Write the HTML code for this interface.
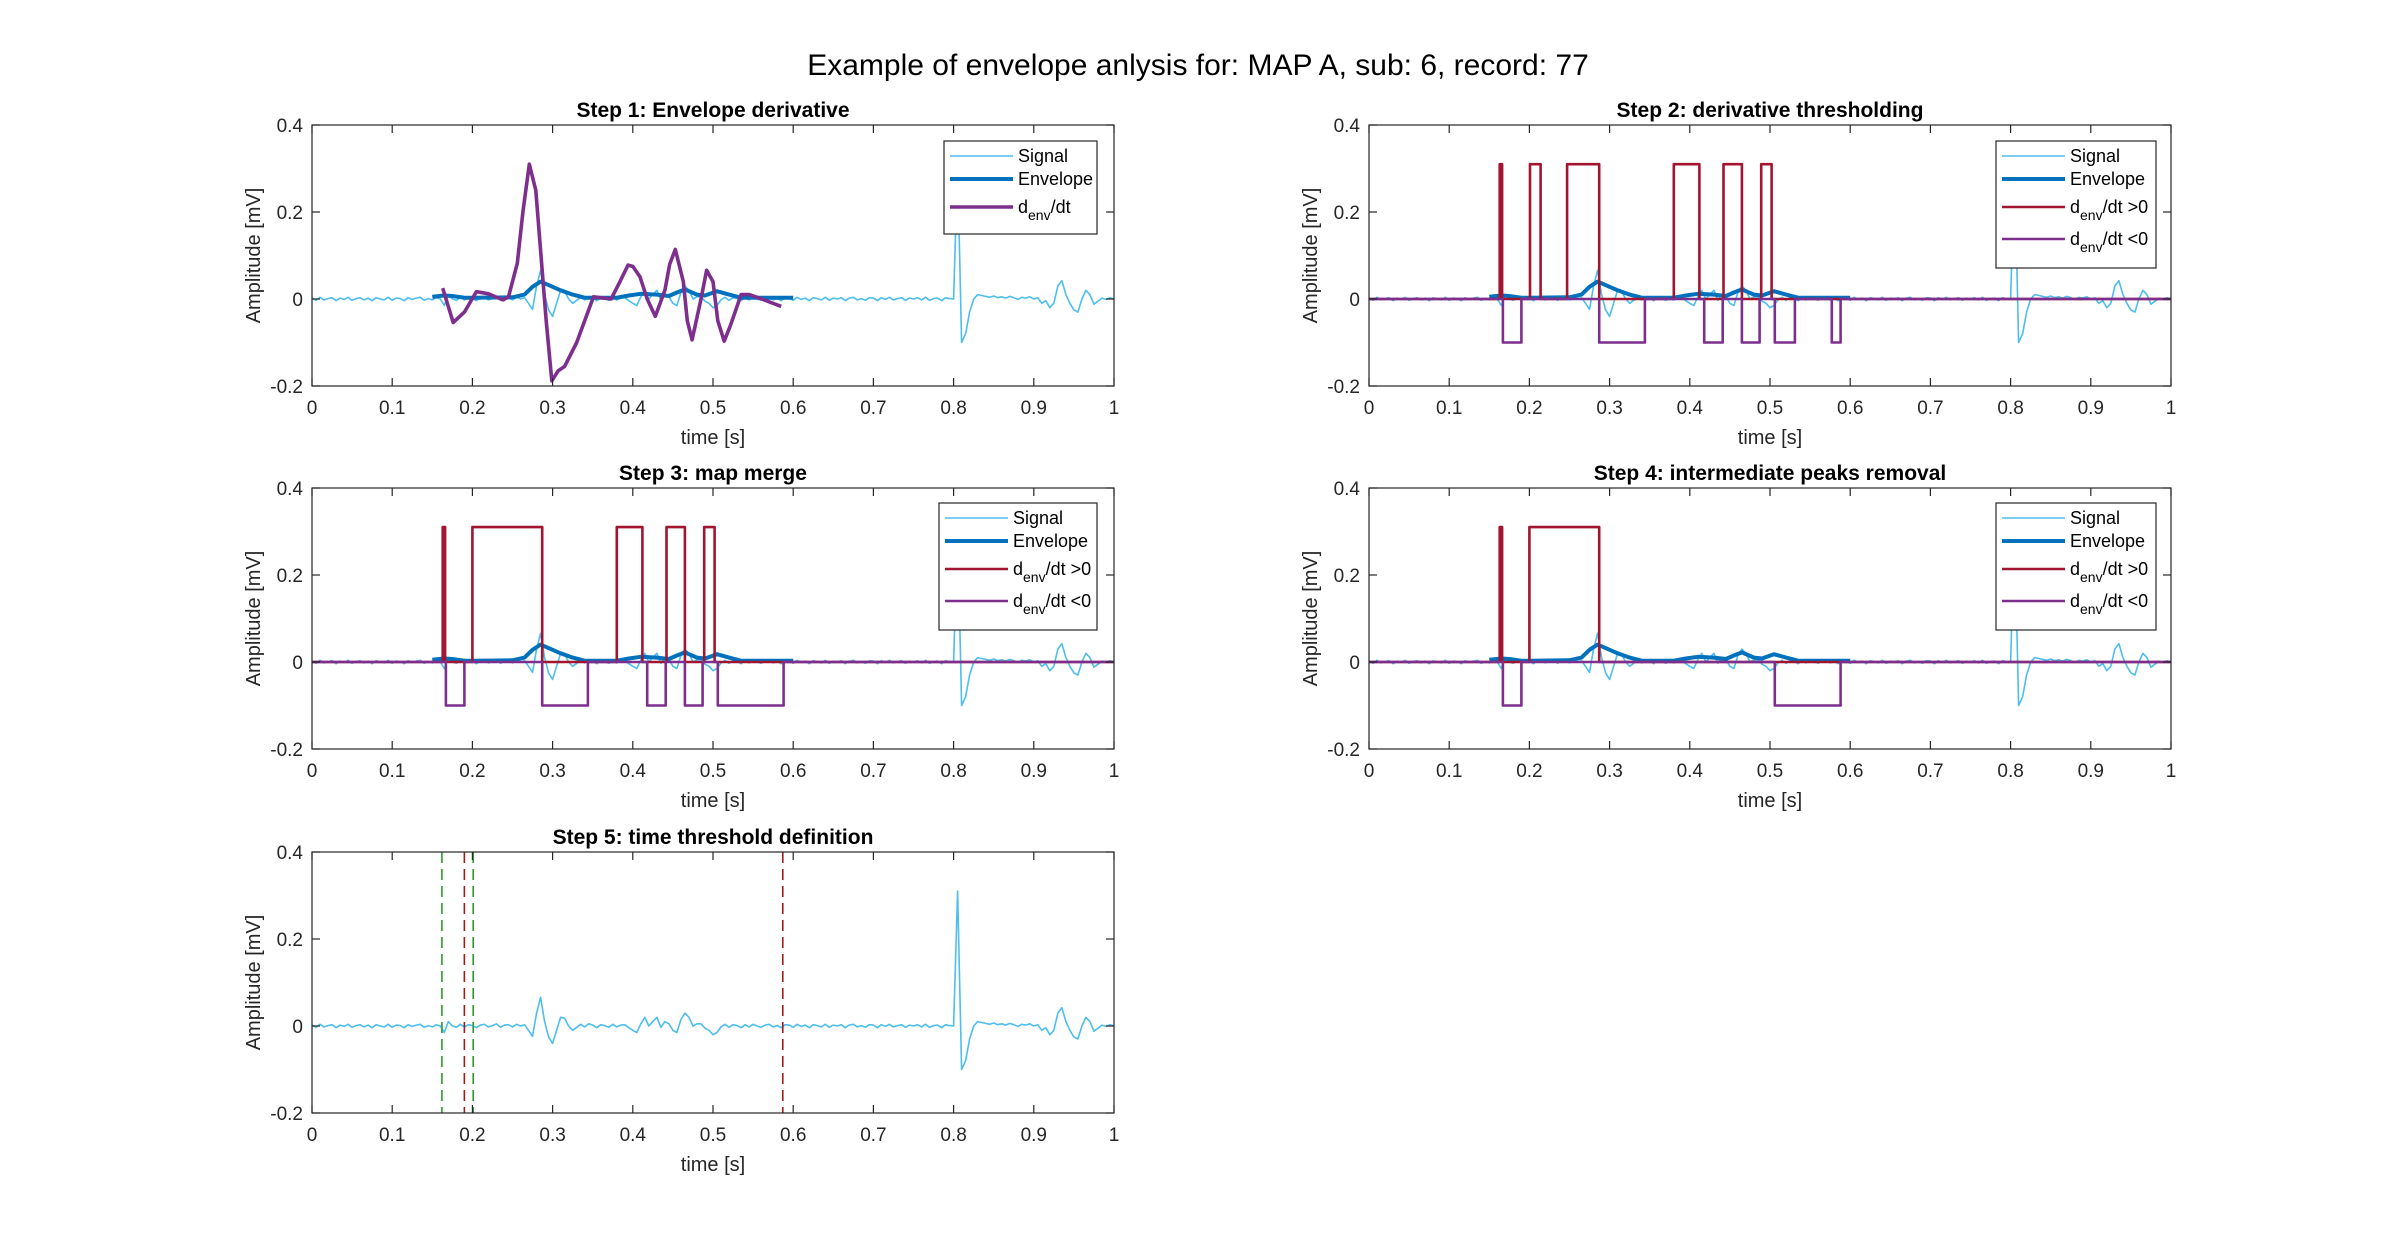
<!DOCTYPE html>
<html><head><meta charset="utf-8"><style>
html,body{margin:0;padding:0;background:#fff}
svg{display:block;font-family:"Liberation Sans",Arial,sans-serif}
</style></head><body>
<svg id="fig" width="2400" height="1245" viewBox="0 0 2400 1245" xmlns="http://www.w3.org/2000/svg">
<rect x="0" y="0" width="2400" height="1245" fill="#fff"/>
<text x="1198" y="75" font-size="30" text-anchor="middle" fill="#000">Example of envelope anlysis for: MAP A, sub: 6, record: 77</text>
</svg>
<script>
// ---- data ----
const sigStep = 0.005;
const signalValues = [
0.002,-0.003,0.004,-0.002,0.001,0.003,-0.004,0.002,-0.001,0.004,-0.003,0.001,0.003,-0.002,0.002,-0.004,0.003,0.000,-0.002,0.004,
-0.003,0.002,0.001,-0.004,0.003,-0.001,0.002,0.004,-0.003,0.001,-0.002,0.003,0.000,-0.015,0.010,0.000,-0.003,0.004,-0.002,0.003,
0.001,-0.004,0.002,0.004,-0.002,0.001,0.005,-0.003,0.002,0.003,-0.002,0.004,0.000,0.003,-0.010,-0.024,0.030,0.066,0.010,-0.025,
-0.040,-0.010,0.020,0.018,0.000,-0.010,-0.003,0.004,-0.002,0.005,0.002,-0.004,0.003,0.001,-0.003,0.004,-0.002,0.002,0.003,-0.004,
-0.010,-0.015,0.005,0.020,0.000,0.010,0.020,-0.003,0.010,0.005,-0.010,-0.015,0.015,0.030,0.020,0.000,0.005,0.005,-0.005,-0.010,
-0.020,-0.015,-0.002,0.004,-0.003,0.003,0.001,-0.004,0.003,-0.002,0.004,0.000,-0.003,0.002,0.004,-0.002,0.001,-0.004,0.003,0.002,
-0.003,0.004,-0.001,0.002,-0.004,0.003,0.001,-0.002,0.004,-0.003,0.002,0.000,0.003,-0.004,0.002,0.004,-0.002,0.001,-0.003,0.003,
0.002,-0.004,0.003,-0.001,0.004,-0.002,0.001,0.003,-0.003,0.002,0.000,0.003,-0.002,0.004,-0.003,0.001,0.002,-0.004,0.003,0.001,
0.000,0.310,-0.100,-0.080,-0.030,0.000,0.010,0.008,0.006,0.004,0.007,0.003,0.005,0.002,0.006,0.003,-0.001,0.004,0.002,0.005,
0.000,0.003,-0.010,-0.004,-0.020,-0.010,0.030,0.042,0.010,-0.010,-0.025,-0.030,0.000,0.020,0.010,-0.012,-0.005,0.002,-0.001,0.003,
0.000];
const envT = [0.15,0.165,0.175,0.19,0.2,0.25,0.265,0.275,0.285,0.295,0.31,0.325,0.34,0.38,0.395,0.41,0.43,0.445,0.455,0.465,0.48,0.49,0.505,0.52,0.535,0.6];
const envV = [0.005,0.008,0.007,0.003,0.003,0.004,0.01,0.028,0.04,0.032,0.02,0.01,0.003,0.003,0.008,0.012,0.01,0.007,0.015,0.022,0.01,0.008,0.018,0.01,0.003,0.003];
const derT = [0.163,0.176,0.19,0.205,0.22,0.238,0.245,0.256,0.263,0.271,0.279,0.286,0.292,0.299,0.307,0.315,0.33,0.351,0.373,0.384,0.394,0.4,0.409,0.418,0.428,0.44,0.446,0.453,0.463,0.468,0.474,0.485,0.492,0.5,0.506,0.514,0.522,0.535,0.545,0.561,0.585];
const derV = [0.025,-0.054,-0.03,0.017,0.012,-0.002,0.005,0.082,0.2,0.31,0.25,0.088,-0.05,-0.188,-0.165,-0.155,-0.1,0.005,0,0.04,0.078,0.075,0.051,0,-0.04,0.02,0.08,0.114,0.04,-0.05,-0.094,0,0.066,0.04,-0.05,-0.097,-0.06,0.01,0.01,0,-0.017];
const posLevel = 0.31, negLevel = -0.1;
const step2PosStart = [0.163,0.2007,0.247,0.380,0.442,0.489];
const step2PosEnd   = [0.166,0.214,0.287,0.412,0.465,0.502];
const step2NegStart = [0.167,0.287,0.418,0.465,0.506,0.577];
const step2NegEnd   = [0.190,0.344,0.441,0.487,0.531,0.588];
const step3PosStart = [0.163,0.200,0.380,0.442,0.489];
const step3PosEnd   = [0.166,0.287,0.412,0.465,0.502];
const step3NegStart = [0.167,0.287,0.418,0.465,0.506];
const step3NegEnd   = [0.190,0.344,0.441,0.487,0.588];
const step4PosStart = [0.163,0.200];
const step4PosEnd   = [0.166,0.287];
const step4NegStart = [0.167,0.506];
const step4NegEnd   = [0.190,0.588];
const greenLines = [0.162,0.201];
const redLines = [0.190,0.587];
const xTicks = [0,0.1,0.2,0.3,0.4,0.5,0.6,0.7,0.8,0.9,1];
const xTickLabels = ["0","0.1","0.2","0.3","0.4","0.5","0.6","0.7","0.8","0.9","1"];
const yTicks = [-0.2,0,0.2,0.4];
const yTickLabels = ["-0.2","0","0.2","0.4"];

const NS = "http://www.w3.org/2000/svg";
const svg = document.getElementById("fig");
const C_SIG = "#4DBEEE", C_ENV = "#0072BD", C_DER = "#7E2F8E", C_POS = "#A2142F", C_NEG = "#7E2F8E";
const W = 802, H = 261, X0 = 0, X1 = 1, Y0 = -0.2, Y1 = 0.4;

function el(tag, attrs, parent) {
  const e = document.createElementNS(NS, tag);
  for (const k in attrs) e.setAttribute(k, attrs[k]);
  (parent || svg).appendChild(e);
  return e;
}
function makeAxes(ox, oy, name, title) {
  const g = el("g", {});
  
  
  const sx = v => ox + (v - X0) / (X1 - X0) * W;
  const sy = v => oy + (Y1 - v) / (Y1 - Y0) * H;
  const t = el("text", {x: ox + W/2, y: oy - 8, "font-size": 21, "font-weight": "bold", "text-anchor": "middle"}, g);
  t.textContent = title;
  
  
  const plot = el("g", {}, g);
  
  
  const frame = el("g", {}, g);
  xTicks.forEach((v, i) => {
    const x = sx(v);
    el("line", {x1: x, y1: oy + H, x2: x, y2: oy + H - 8, stroke: "#262626", "stroke-width": 1.2}, frame);
    el("line", {x1: x, y1: oy, x2: x, y2: oy + 8, stroke: "#262626", "stroke-width": 1.2}, frame);
    const tl = el("text", {x: x, y: oy + H + 28, "font-size": 19, "text-anchor": "middle", fill: "#262626"}, frame);
    tl.textContent = xTickLabels[i];
    
    
  });
  yTicks.forEach((v, i) => {
    const y = sy(v);
    el("line", {x1: ox, y1: y, x2: ox + 8, y2: y, stroke: "#262626", "stroke-width": 1.2}, frame);
    el("line", {x1: ox + W, y1: y, x2: ox + W - 8, y2: y, stroke: "#262626", "stroke-width": 1.2}, frame);
    const tl = el("text", {x: ox - 9, y: y + 7, "font-size": 19, "text-anchor": "end", fill: "#262626"}, frame);
    tl.textContent = yTickLabels[i];
    
    
  });
  el("rect", {x: ox, y: oy, width: W, height: H, fill: "none", stroke: "#262626", "stroke-width": 1.2}, frame);
  const xl = el("text", {x: ox + W/2, y: oy + H + 58, "font-size": 20, "text-anchor": "middle", fill: "#262626"}, frame);
  xl.textContent = "time [s]";
  
  
  const yl = el("text", {x: 0, y: 0, "font-size": 20, "text-anchor": "middle", fill: "#262626", transform: `translate(${ox - 52},${oy + H/2}) rotate(-90)`}, frame);
  yl.textContent = "Amplitude [mV]";
  
  
  return {g, plot, sx, sy, ox, oy};
}
function poly(ax, ts, vs, color, w, name, dash) {
  const pts = ts.map((t, i) => ax.sx(t).toFixed(1) + "," + ax.sy(vs[i]).toFixed(1)).join(" ");
  const p = el("polyline", {points: pts, fill: "none", stroke: color, "stroke-width": w, "stroke-linejoin": "round"}, ax.plot);
  if (dash) p.setAttribute("stroke-dasharray", dash);
  
  
  return p;
}
function drawSignal(ax) {
  const ts = signalValues.map((v, i) => i * sigStep);
  poly(ax, ts, signalValues, C_SIG, 1.6, "signal-line");
}
function pulses(ax, starts, ends, level, color, name) {
  const ts = [0], vs = [0];
  starts.forEach((s, i) => { ts.push(s, s, ends[i], ends[i]); vs.push(0, level, level, 0); });
  ts.push(1); vs.push(0);
  poly(ax, ts, vs, color, 2.6, name);
}
function legend(ax, x, y, w, entries) {
  const g = el("g", {}, ax.g);
  
  
  const rowH = [23, 28, 32, 34];
  let h = 0; entries.forEach((e, i) => h += rowH[i]);
  el("rect", {x: x, y: y, width: w, height: h + 10, fill: "#fff", stroke: "#262626", "stroke-width": 1.2}, g);
  let cy = y + 15;
  entries.forEach((e, i) => {
    const eg = el("g", {}, g);
    
    
    el("line", {x1: x + 6, y1: cy, x2: x + 69, y2: cy, stroke: e.color, "stroke-width": e.w}, eg);
    const t = el("text", {x: x + 74, y: cy + 6, "font-size": 18, fill: "#000"}, eg);
    if (e.sub) {
      t.appendChild(document.createTextNode("d"));
      const ts = el("tspan", {dy: 7, "font-size": 14}, t);
      ts.textContent = "env";
      const ts2 = el("tspan", {dy: -7, "font-size": 18}, t);
      ts2.textContent = e.label;
    } else t.textContent = e.label;
    cy += rowH[i];
  });
}

// Step 1
const a1 = makeAxes(312, 125, "axes-step1", "Step 1: Envelope derivative");
drawSignal(a1);
poly(a1, envT, envV, C_ENV, 4, "envelope-line");
poly(a1, derT, derV, C_DER, 3.6, "derivative-line");
legend(a1, 944, 141, 153, [{label:"Signal",color:C_SIG,w:1.6},{label:"Envelope",color:C_ENV,w:4},{label:"/dt",color:C_DER,w:3.6,sub:true}]);

// Step 2
const a2 = makeAxes(1369, 125, "axes-step2", "Step 2: derivative thresholding");
drawSignal(a2);
poly(a2, envT, envV, C_ENV, 4, "envelope-line");
pulses(a2, step2PosStart, step2PosEnd, posLevel, C_POS, "positive-derivative-map");
pulses(a2, step2NegStart, step2NegEnd, negLevel, C_NEG, "negative-derivative-map");
legend(a2, 1996, 141, 160, [{label:"Signal",color:C_SIG,w:1.6},{label:"Envelope",color:C_ENV,w:4},{label:"/dt >0",color:C_POS,w:2.6,sub:true},{label:"/dt <0",color:C_NEG,w:2.6,sub:true}]);

// Step 3
const a3 = makeAxes(312, 488, "axes-step3", "Step 3: map merge");
drawSignal(a3);
poly(a3, envT, envV, C_ENV, 4, "envelope-line");
pulses(a3, step3PosStart, step3PosEnd, posLevel, C_POS, "positive-derivative-map");
pulses(a3, step3NegStart, step3NegEnd, negLevel, C_NEG, "negative-derivative-map");
legend(a3, 939, 503, 158, [{label:"Signal",color:C_SIG,w:1.6},{label:"Envelope",color:C_ENV,w:4},{label:"/dt >0",color:C_POS,w:2.6,sub:true},{label:"/dt <0",color:C_NEG,w:2.6,sub:true}]);

// Step 4
const a4 = makeAxes(1369, 488, "axes-step4", "Step 4: intermediate peaks removal");
drawSignal(a4);
poly(a4, envT, envV, C_ENV, 4, "envelope-line");
pulses(a4, step4PosStart, step4PosEnd, posLevel, C_POS, "positive-derivative-map");
pulses(a4, step4NegStart, step4NegEnd, negLevel, C_NEG, "negative-derivative-map");
legend(a4, 1996, 503, 160, [{label:"Signal",color:C_SIG,w:1.6},{label:"Envelope",color:C_ENV,w:4},{label:"/dt >0",color:C_POS,w:2.6,sub:true},{label:"/dt <0",color:C_NEG,w:2.6,sub:true}]);

// Step 5
const a5 = makeAxes(312, 852, "axes-step5", "Step 5: time threshold definition");
drawSignal(a5);
greenLines.forEach(t => {
  const l = el("line", {x1: a5.sx(t), y1: a5.oy, x2: a5.sx(t), y2: a5.oy + H, stroke: "#2E9B2E", "stroke-width": 1.6, "stroke-dasharray": "11,6"}, a5.plot);
  
  
});
redLines.forEach(t => {
  const l = el("line", {x1: a5.sx(t), y1: a5.oy, x2: a5.sx(t), y2: a5.oy + H, stroke: "#9B1C1C", "stroke-width": 1.6, "stroke-dasharray": "11,6"}, a5.plot);
  
  
});
</script>
</body></html>
